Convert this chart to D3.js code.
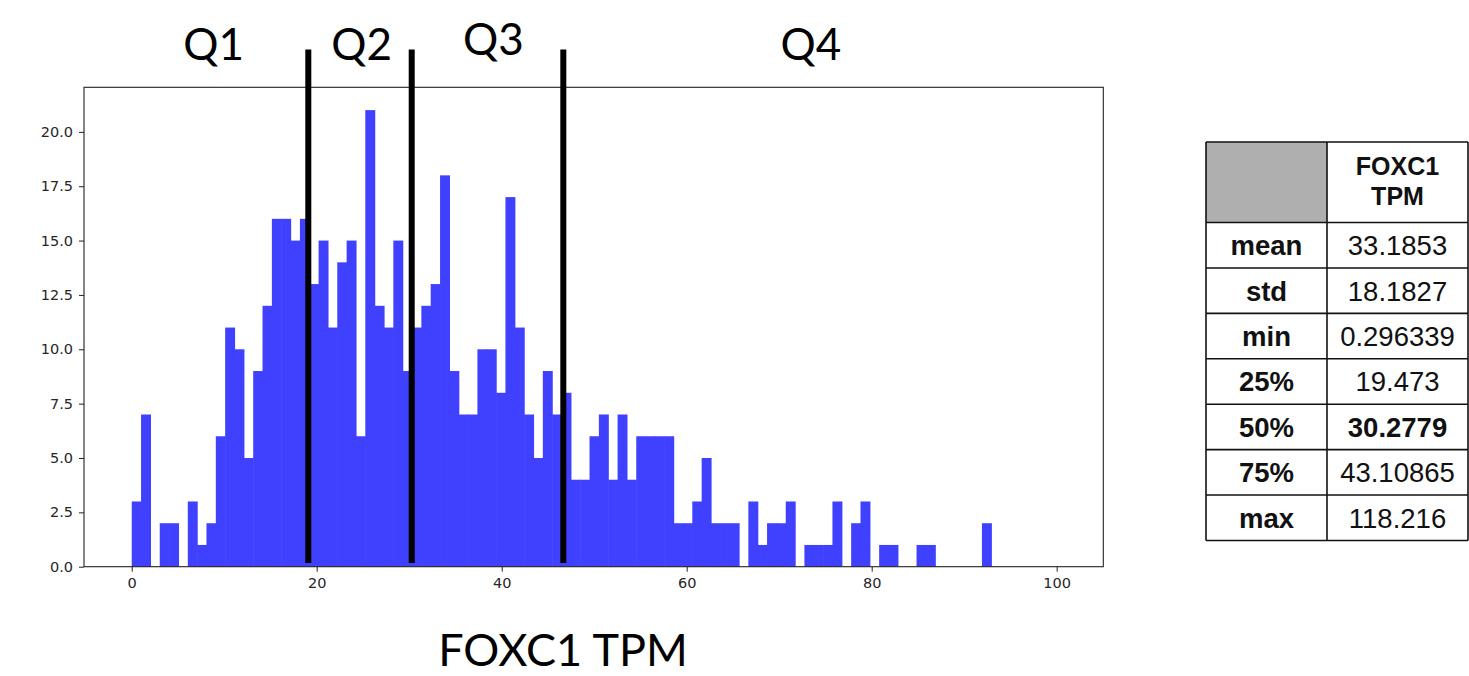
<!DOCTYPE html>
<html>
<head>
<meta charset="utf-8">
<script src="https://cdn.jsdelivr.net/npm/d3@7"></script>
<style>
  html, body { margin: 0; padding: 0; background: #fff; }
  svg { display: block; }
</style>
</head>
<body>
<svg id="chart" width="1469" height="676"></svg>
<script>
// ---------------- DATA ----------------
// histogram counts, 99 equal bins over [0, 100]
const histRange = [0, 100];
const binCount = 99;
const counts = [
  3, 7, 0, 2, 2, 0, 3, 1, 2, 6,
  11, 10, 5, 9, 12, 16, 16, 15, 16, 13,
  15, 11, 14, 15, 6, 21, 12, 11, 15, 9,
  11, 12, 13, 18, 9, 7, 7, 10, 10, 8,
  17, 11, 7, 5, 9, 7, 8, 4, 4, 6,
  7, 4, 7, 4, 6, 6, 6, 6, 2, 2,
  3, 5, 2, 2, 2, 0, 3, 1, 2, 2,
  3, 0, 1, 1, 1, 3, 0, 2, 3, 0,
  1, 1, 0, 0, 1, 1, 0, 0, 0, 0,
  0, 2, 0, 0, 0, 0, 0, 0, 0
];
const xTicks = [0, 20, 40, 60, 80, 100];
const yTicks = [0, 2.5, 5, 7.5, 10, 12.5, 15, 17.5, 20];
// hand-drawn quartile separators (x in TPM)
const quartileLines = [19.09, 30.27, 46.66];
const quartileLabels = ["Q1", "Q2", "Q3", "Q4"];
const xTitle = "FOXC1 TPM";
// summary table
const tableHeader = ["", "FOXC1\nTPM"];
const statNames = ["mean", "std", "min", "25%", "50%", "75%", "max"];
const statValues = ["33.1853", "18.1827", "0.296339", "19.473", "30.2779", "43.10865", "118.216"];
const boldStat = "50%";

// ---------------- LAYOUT ----------------
const plot = { left: 84, right: 1103.3, top: 87.3, bottom: 566.7 };
const qLabelPos = [ {x: 213.7, y: 60}, {x: 361.7, y: 60}, {x: 493.3, y: 55}, {x: 810.8, y: 60} ];
const lineTop = 49.5, lineBottom = 563;
const table = { left: 1206, mid: 1327, right: 1468, top: 142, headerBottom: 222.5, bottom: 540.5 };

const svg = d3.select("#chart");
svg.append("rect").attr("width", 1469).attr("height", 676).attr("fill", "#fff");

const x = d3.scaleLinear().domain([-5.16, 105.04]).range([plot.left, plot.right]);
const y = d3.scaleLinear().domain([0, 22.05]).range([plot.bottom, plot.top]);

const binW = (histRange[1] - histRange[0]) / binCount;
const bins = counts.map((c, i) => ({ x0: histRange[0] + i * binW, x1: histRange[0] + (i + 1) * binW, c }));

// bars (slight overlap hides anti-aliasing seams between neighbours)
svg.append("g").selectAll("rect").data(bins.filter(b => b.c > 0)).join("rect")
  .attr("x", d => x(d.x0))
  .attr("width", d => x(d.x1) - x(d.x0) + 0.6)
  .attr("y", d => y(d.c))
  .attr("height", d => y(0) - y(d.c))
  .attr("fill", "#4040ff");

// axes
const tickFont = "'DejaVu Sans', sans-serif";
const xAxis = svg.append("g").attr("transform", `translate(0,${plot.bottom})`)
  .call(d3.axisBottom(x).tickValues(xTicks).tickFormat(d3.format("d")).tickSize(5).tickPadding(6));
const yAxis = svg.append("g").attr("transform", `translate(${plot.left},0)`)
  .call(d3.axisLeft(y).tickValues(yTicks).tickFormat(d3.format(".1f")).tickSize(5).tickPadding(6));
[xAxis, yAxis].forEach(g => {
  g.select(".domain").remove();
  g.selectAll(".tick line").attr("stroke", "#222").attr("stroke-width", 1);
  g.selectAll(".tick text").attr("font-family", tickFont).attr("font-size", "14.5px").attr("fill", "#262626");
});

// frame
svg.append("rect")
  .attr("x", plot.left).attr("y", plot.top)
  .attr("width", plot.right - plot.left).attr("height", plot.bottom - plot.top)
  .attr("fill", "none").attr("stroke", "#222").attr("stroke-width", 1.1);

// quartile lines
svg.append("g").selectAll("line").data(quartileLines).join("line")
  .attr("x1", d => x(d)).attr("x2", d => x(d))
  .attr("y1", lineTop).attr("y2", lineBottom)
  .attr("stroke", "#000").attr("stroke-width", 6);

// quartile labels
svg.append("g").selectAll("text").data(quartileLabels).join("text")
  .attr("x", (d, i) => qLabelPos[i].x).attr("y", (d, i) => qLabelPos[i].y)
  .attr("text-anchor", "middle")
  .attr("font-family", "Lato, 'Open Sans', sans-serif")
  .attr("font-size", "44px").attr("fill", "#000")
  .text(d => d);

// x title
svg.append("text").attr("x", 563).attr("y", 666)
  .attr("text-anchor", "middle")
  .attr("font-family", "Lato, 'Open Sans', sans-serif")
  .attr("font-size", "45px").attr("fill", "#000")
  .text(xTitle);

// ---------------- TABLE ----------------
const tg = svg.append("g");
const rowH = (table.bottom - table.headerBottom) / statNames.length;
const tFont = "'Liberation Sans', Arial, sans-serif";
tg.append("rect").attr("x", table.left).attr("y", table.top)
  .attr("width", table.mid - table.left).attr("height", table.headerBottom - table.top)
  .attr("fill", "#afafaf");
// header text
const hdrLines = tableHeader[1].split("\n");
tg.append("g").selectAll("text").data(hdrLines).join("text")
  .attr("x", (table.mid + table.right) / 2)
  .attr("y", (d, i) => 175 + i * 30)
  .attr("text-anchor", "middle").attr("font-family", tFont)
  .attr("font-weight", "bold").attr("font-size", "25px").attr("fill", "#111")
  .text(d => d);
// rows
const rows = tg.append("g").selectAll("g").data(statNames).join("g")
  .attr("transform", (d, i) => `translate(0,${table.headerBottom + i * rowH})`);
rows.append("text")
  .attr("x", (table.left + table.mid) / 2).attr("y", rowH / 2 + 10)
  .attr("text-anchor", "middle").attr("font-family", tFont)
  .attr("font-weight", "bold").attr("font-size", "27.5px").attr("fill", "#111")
  .text(d => d);
rows.append("text")
  .attr("x", (table.mid + table.right) / 2).attr("y", rowH / 2 + 10)
  .attr("text-anchor", "middle").attr("font-family", tFont)
  .attr("font-weight", (d) => d === boldStat ? "bold" : "normal")
  .attr("font-size", "27.5px").attr("fill", "#111")
  .text((d, i) => statValues[i]);
// grid lines
const hLines = [table.top, table.headerBottom].concat(statNames.map((d, i) => table.headerBottom + (i + 1) * rowH));
tg.append("g").selectAll("line").data(hLines).join("line")
  .attr("x1", table.left).attr("x2", table.right)
  .attr("y1", d => d).attr("y2", d => d)
  .attr("stroke", "#111").attr("stroke-width", 1.6);
tg.append("g").selectAll("line").data([table.left, table.mid, table.right]).join("line")
  .attr("x1", d => d).attr("x2", d => d)
  .attr("y1", table.top).attr("y2", table.bottom)
  .attr("stroke", "#111").attr("stroke-width", 1.6);
</script>
</body>
</html>
